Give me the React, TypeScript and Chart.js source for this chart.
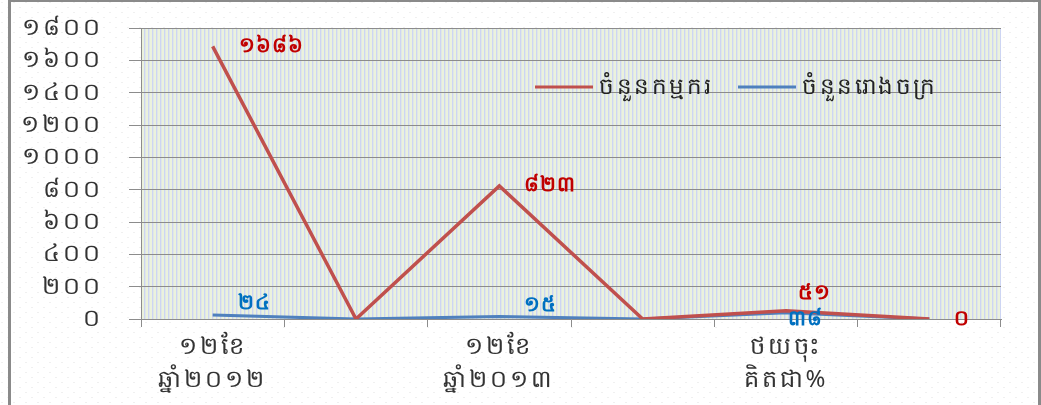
import React, { useEffect, useRef } from "react";
import { Chart, registerables } from "chart.js";

Chart.register(...registerables);

const categories: (string | string[])[] = [
  ["១២ខែ", "ឆ្នាំ២០១២"],
  "",
  ["១២ខែ", "ឆ្នាំ២០១៣"],
  "",
  ["ថយចុះ", "គិតជា%"],
  "",
];
const seriesNames = ["ចំនួនកម្មករ", "ចំនួនរោងចក្រ"];
const workers = [1686, 0, 823, 0, 51, 0];
const factories = [24, 0, 15, 0, 38, 0];
const workersLabelShown = [true, false, true, false, true, true];
const factoriesLabelShown = [true, false, true, false, true, false];
const yTicks = [0, 200, 400, 600, 800, 1000, 1200, 1400, 1600, 1800];

const KH_DIGITS = "០១២៣៤៥៦៧៨៩";
const toKhmer = (n: number) =>
  String(n).replace(/[0-9]/g, (d) => KH_DIGITS[Number(d)]);

const FONT = "'Noto Sans', 'DejaVu Sans', sans-serif";
const RED = "#c0504d";
const BLUE = "#4f81bd";

// label offsets relative to data point (dx, dy), left-aligned text
const workersLabelOffset = [
  [26, 0],
  [0, 0],
  [25, -1],
  [0, 0],
  [12, -18],
  [25, 0],
];
const factoriesLabelOffset = [
  [25, -12],
  [0, 0],
  [25, -12],
  [0, 0],
  [2, 6],
  [0, 0],
];
const legendX = [535, 738];

function makeStripe(ctx: CanvasRenderingContext2D) {
  const c = document.createElement("canvas");
  c.width = 4;
  c.height = 4;
  const g = c.getContext("2d")!;
  g.fillStyle = "#ebf2dd";
  g.fillRect(0, 0, 4, 4);
  g.fillStyle = "#cdd5f3";
  g.fillRect(0, 0, 1, 4);
  g.fillStyle = "#e0e7e6";
  g.fillRect(1, 0, 1, 4);
  return ctx.createPattern(c, "repeat");
}

function makeDots(ctx: CanvasRenderingContext2D) {
  const c = document.createElement("canvas");
  c.width = 12;
  c.height = 10;
  const g = c.getContext("2d")!;
  g.fillStyle = "#ffffff";
  g.fillRect(0, 0, 12, 10);
  g.fillStyle = "#f0f0f0";
  g.fillRect(1, 2, 2, 1);
  g.fillRect(7, 7, 2, 1);
  return ctx.createPattern(c, "repeat");
}

const bgPlugin = {
  id: "bgPlugin",
  beforeDraw(chart: any) {
    const { ctx, chartArea, width, height } = chart;
    ctx.save();
    ctx.fillStyle = makeDots(ctx) || "#fff";
    ctx.fillRect(0, 0, width, height);
    ctx.fillStyle = "#8a8a8a";
    ctx.fillRect(8, 0, 3, height);
    ctx.fillRect(8, 0, width - 8, 2);
    ctx.fillRect(width - 3, 0, 3, height);
    ctx.fillStyle = makeStripe(ctx) || "#ecf1df";
    ctx.fillRect(
      chartArea.left,
      chartArea.top,
      chartArea.right - chartArea.left,
      chartArea.bottom - chartArea.top
    );
    ctx.restore();
    (ctx as any).letterSpacing = "3px";
  },
  afterDraw(chart: any) {
    (chart.ctx as any).letterSpacing = "0px";
  },
};

const labelPlugin = {
  id: "labelPlugin",
  afterDatasetsDraw(chart: any) {
    const { ctx } = chart;
    const configs = [
      { shown: workersLabelShown, off: workersLabelOffset, color: "#c00000" },
      { shown: factoriesLabelShown, off: factoriesLabelOffset, color: "#0070c0" },
    ];
    ctx.save();
    (ctx as any).letterSpacing = "1px";
    ctx.font = `bold 21px ${FONT}`;
    ctx.textAlign = "left";
    ctx.textBaseline = "middle";
    configs.forEach((cfg, di) => {
      const meta = chart.getDatasetMeta(di);
      const data = chart.data.datasets[di].data as number[];
      meta.data.forEach((pt: any, i: number) => {
        if (!cfg.shown[i]) return;
        ctx.fillStyle = cfg.color;
        ctx.fillText(toKhmer(data[i]), pt.x + cfg.off[i][0], pt.y + cfg.off[i][1]);
      });
    });

    // legend
    const y = 87;
    ctx.font = `23px ${FONT}`;
    (ctx as any).letterSpacing = "2.5px";
    ctx.textBaseline = "middle";
    chart.data.datasets.forEach((ds: any, i: number) => {
      const x = legendX[i];
      ctx.strokeStyle = ds.borderColor;
      ctx.lineWidth = 3;
      ctx.beginPath();
      ctx.moveTo(x, y);
      ctx.lineTo(x + 58, y);
      ctx.stroke();
      ctx.fillStyle = "#222";
      ctx.fillText(ds.label, x + 64, y);
    });
    ctx.restore();
  },
};

export default function App() {
  const ref = useRef<HTMLCanvasElement>(null);
  useEffect(() => {
    if (!ref.current) return;
    const chart = new Chart(ref.current, {
      type: "line",
      data: {
        labels: categories,
        datasets: [
          {
            label: seriesNames[0],
            data: workers,
            borderColor: RED,
            borderWidth: 3.5,
            pointRadius: 0,
            tension: 0,
          },
          {
            label: seriesNames[1],
            data: factories,
            borderColor: BLUE,
            borderWidth: 3,
            pointRadius: 0,
            tension: 0,
          },
        ],
      },
      options: {
        animation: false,
        responsive: false,
        layout: { autoPadding: false, padding: { left: 0, right: 40, top: 28, bottom: 0 } },
        plugins: {
          legend: { display: false },
          tooltip: { enabled: false },
        },
        scales: {
          x: {
            type: "category",
            offset: true,
            grid: {
              offset: true,
              drawOnChartArea: false,
              drawTicks: true,
              tickLength: 8,
              color: "#8c8c8c",
            },
            border: { color: "#8c8c8c" },
            ticks: {
              autoSkip: false,
              maxRotation: 0,
              color: "#333",
              font: { family: FONT, size: 24, lineHeight: 1.4 },
              padding: 3,
            },
            afterFit: (s: any) => {
              s.height = 86;
              s.paddingLeft = 0;
              s.paddingRight = 0;
            },
          },
          y: {
            min: 0,
            max: 1800,
            afterBuildTicks: (s: any) => {
              s.ticks = yTicks.map((v) => ({ value: v }));
            },
            ticks: {
              autoSkip: false,
              callback: (v: any) => toKhmer(Number(v)),
              color: "#333",
              font: { family: FONT, size: 24, lineHeight: 1 },
              padding: 26,
            },
            grid: { color: "#8c8c8c", tickLength: 12 },
            border: { color: "#8c8c8c" },
            afterFit: (s: any) => {
              s.width = 141;
              s.paddingTop = 0;
              s.paddingBottom = 0;
            },
          },
        },
      },
      plugins: [bgPlugin, labelPlugin],
    });
    return () => chart.destroy();
  }, []);
  return (
    <div style={{ position: "fixed", left: 0, top: 0, width: 1041, height: 405 }}>
      <canvas ref={ref} width={1041} height={405} />
    </div>
  );
}
